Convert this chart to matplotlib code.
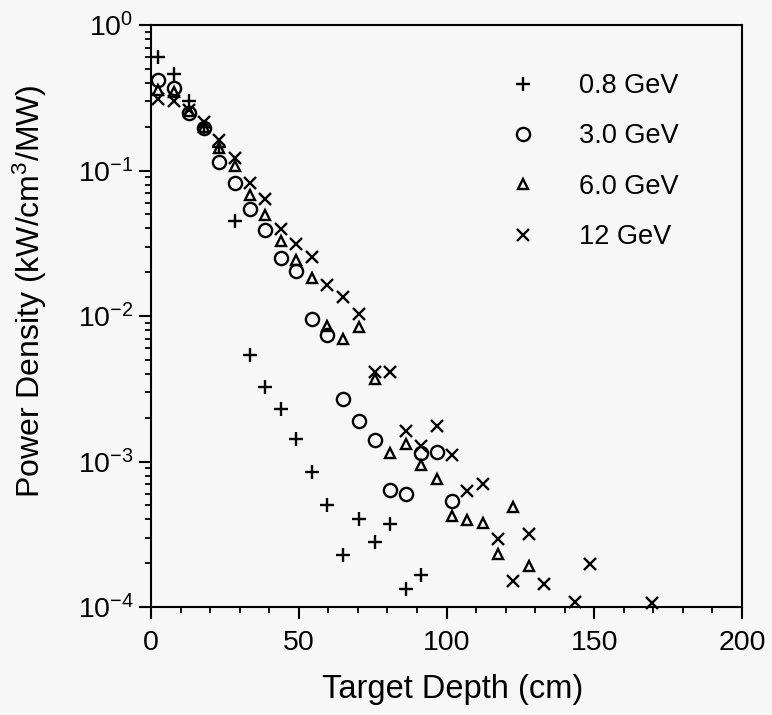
import matplotlib
matplotlib.use("Agg")
import matplotlib.pyplot as plt
from matplotlib.ticker import LogLocator, MultipleLocator, NullFormatter

plt.rcParams['font.family'] = ['Liberation Sans', 'DejaVu Sans']
plt.rcParams['mathtext.fontset'] = 'custom'
plt.rcParams['mathtext.rm'] = 'Liberation Sans'
plt.rcParams['mathtext.it'] = 'Liberation Sans:italic'
plt.rcParams['mathtext.bf'] = 'Liberation Sans:bold'
plt.rcParams['axes.unicode_minus'] = False

# ---- data ----
labels = ["0.8 GeV", "3.0 GeV", "6.0 GeV", "12 GeV"]

x_08 = [2.5, 7.8, 12.7, 18.0, 23.1, 28.4, 33.5, 38.7, 43.9, 49.2, 54.5, 59.7, 65.1,
        70.5, 75.8, 80.9, 86.3, 91.4]
y_08 = [0.60, 0.46, 0.30, 0.20, 0.145, 0.045, 0.0054, 0.00327, 0.0023, 0.00143,
        0.00085, 0.00050, 0.000228, 0.000401, 0.000281, 0.000372, 0.000134, 0.000166]

x_30 = [2.5, 7.8, 12.7, 18.0, 23.1, 28.4, 33.5, 38.7, 43.9, 49.2, 54.5, 59.7, 65.1,
        70.5, 75.8, 80.9, 86.3, 91.4, 96.7, 102.0]
y_30 = [0.42, 0.37, 0.25, 0.195, 0.115, 0.082, 0.0544, 0.039, 0.0249, 0.0205, 0.0095,
        0.0074, 0.0027, 0.0019, 0.0014, 0.00064, 0.0006, 0.00114, 0.00117, 0.000535]

x_60 = [2.5, 7.8, 12.7, 18.0, 23.1, 28.4, 33.5, 38.7, 43.9, 49.2, 54.5, 59.7, 65.1,
        70.5, 75.8, 80.9, 86.3, 91.4, 96.7, 102.0, 107.0, 112.2, 117.5, 122.6, 127.9]
y_60 = [0.355, 0.345, 0.255, 0.20, 0.142, 0.107, 0.0679, 0.0494, 0.0328, 0.0243,
        0.0182, 0.0085, 0.0069, 0.0084, 0.0037, 0.00115, 0.00132, 0.000946, 0.00076,
        0.000422, 0.000396, 0.00038, 0.000231, 0.000484, 0.000191]

x_12 = [2.5, 7.8, 12.7, 18.0, 23.1, 28.4, 33.5, 38.7, 43.9, 49.2, 54.5, 59.7, 65.1,
        70.5, 75.8, 80.9, 86.3, 91.4, 96.7, 102.0, 107.0, 112.2, 117.5, 122.6, 127.9,
        133.1, 143.5, 148.6, 169.4]
y_12 = [0.31, 0.30, 0.26, 0.215, 0.162, 0.121, 0.0817, 0.0637, 0.0396, 0.0311,
        0.0256, 0.0163, 0.0136, 0.0103, 0.0041, 0.00414, 0.00163, 0.00128, 0.00176,
        0.00111, 0.00063, 0.0007, 0.000292, 0.000152, 0.000316, 0.000144, 0.000109,
        0.000198, 0.000107]

xticks = [0, 50, 100, 150, 200]

# ---- figure ----
bg = '#f7f7f7'
fig = plt.figure(figsize=(7.72, 7.15), dpi=100, facecolor=bg)
ax = fig.add_axes([151/772, 1-607/715, (742-151)/772, (607-25)/715])
ax.set_facecolor(bg)

kw = dict(linestyle='none', color='black', markerfacecolor='none', markeredgewidth=1.7,
          clip_on=False)
ax.plot(x_08, y_08, marker='+', markersize=10, label=labels[0], **kw)
ax.plot(x_30, y_30, marker='o', markersize=9.5, label=labels[1], **kw)
ax.plot(x_60, y_60, marker='^', markersize=7.5, label=labels[2], **kw)
ax.plot(x_12, y_12, marker='x', markersize=9, label=labels[3], **kw)

ax.set_yscale('log')
ax.set_ylim(1e-4, 1)
ax.set_xlim(0, 200)
ax.set_xticks(xticks)
ax.xaxis.set_minor_locator(MultipleLocator(10))
ax.yaxis.set_major_locator(LogLocator(base=10, numticks=10))
ax.yaxis.set_minor_locator(LogLocator(base=10, subs=range(2, 10), numticks=20))
ax.yaxis.set_minor_formatter(NullFormatter())

for s in ax.spines.values():
    s.set_linewidth(1.5)

ax.tick_params(axis='both', which='major', direction='out', length=8.5, width=1.5,
               labelsize=20.5, top=False, right=False)
ax.tick_params(axis='both', which='minor', direction='out', length=4.5, width=1.3,
               top=False, right=False)
ax.tick_params(axis='x', which='major', pad=8)
ax.tick_params(axis='y', which='major', pad=4)

ax.set_xlabel('Target Depth (cm)', fontsize=23.5)
ax.xaxis.set_label_coords(0.51, -0.115)
ax.set_ylabel(r'Power Density (kW/cm$^{3}$/MW)', fontsize=23)
ax.yaxis.set_label_coords(-0.173, 0.543)

leg = ax.legend(loc='upper left', bbox_to_anchor=(509/772, 1-73/715),
                bbox_transform=fig.transFigure, frameon=False, fontsize=19.5,
                numpoints=1, handlelength=1.0, handletextpad=1.6, labelspacing=0.9,
                borderpad=0, borderaxespad=0)

fig.savefig('out.png', dpi=100, facecolor=bg)
